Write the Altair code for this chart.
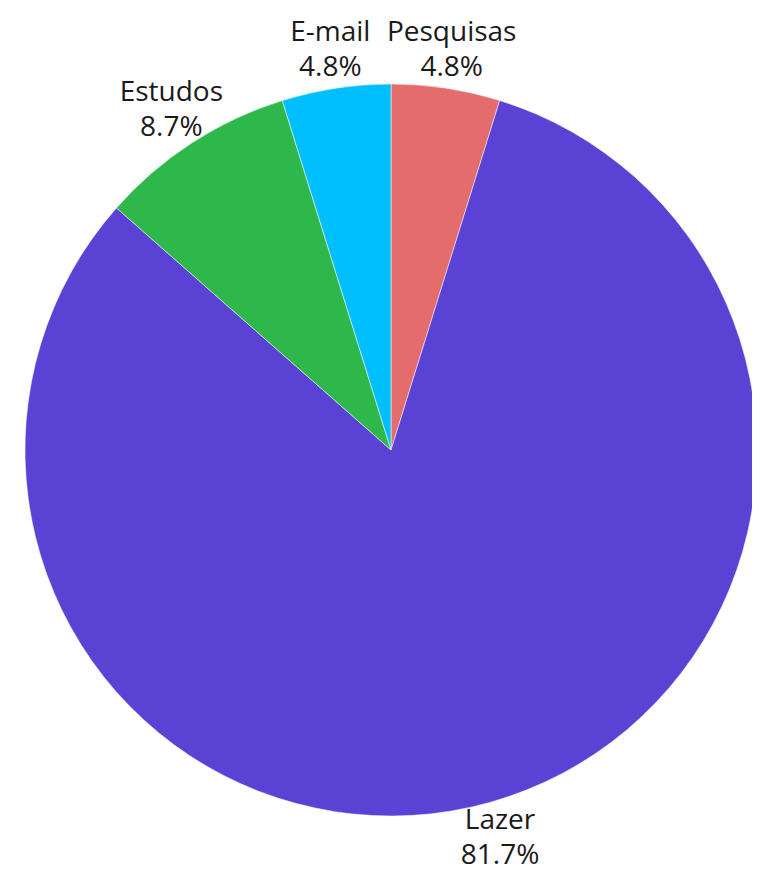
import altair as alt
import pandas as pd

categories = ["Pesquisas", "Lazer", "Estudos", "E-mail"]
values = [4.8, 81.7, 8.7, 4.8]
colors = ["#E56C6C", "#5A43D4", "#2EB84B", "#00BFFF"]

df = pd.DataFrame({
    "categoria": categories,
    "valor": values,
    "ordem": list(range(len(categories))),
    "pct": [f"{v:.1f}%" for v in values],
})

base = alt.Chart(df).encode(
    theta=alt.Theta("valor:Q", stack=True),
    order=alt.Order("ordem:Q"),
    x=alt.value(383),
    y=alt.value(442),
)

pie = base.mark_arc(outerRadius=366, stroke="white", strokeWidth=0.5).encode(
    color=alt.Color(
        "categoria:N",
        scale=alt.Scale(domain=categories, range=colors),
        legend=None,
    )
)

text_style = dict(
    radius=404,
    fontSize=28,
    font="Open Sans",
    align="center",
    baseline="middle",
    color="#1a1a1a",
)

names = base.mark_text(dy=-18, **text_style).encode(text="categoria:N")
pcts = base.mark_text(dy=17, **text_style).encode(text="pct:N")

chart = (pie + names + pcts).properties(
    width=744,
    height=864,
    padding=0,
    autosize=alt.AutoSizeParams(type="fit", contains="padding"),
).configure_view(stroke=None)

chart.save("out.html", embed_options={"renderer": "svg", "actions": False})
